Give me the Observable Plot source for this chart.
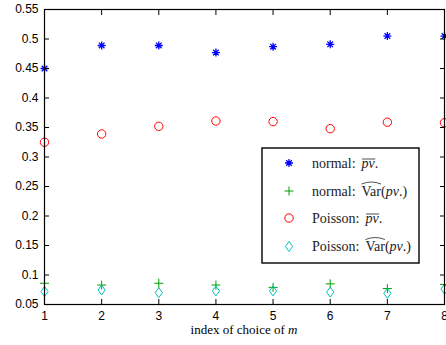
<!DOCTYPE html>
<html><head><meta charset="utf-8">
<script src="https://cdn.jsdelivr.net/npm/d3@7"></script>
<script src="https://cdn.jsdelivr.net/npm/@observablehq/plot@0.6"></script>
<style>body{margin:0;background:#fff} svg{display:block}</style>
</head><body><div id="chart"></div>
<script>
const indices = [1, 2, 3, 4, 5, 6, 7, 8];
const normalMean = [0.450, 0.489, 0.489, 0.477, 0.487, 0.491, 0.505, 0.505];
const normalVar = [0.086, 0.083, 0.086, 0.083, 0.079, 0.085, 0.077, 0.084];
const poissonMean = [0.325, 0.339, 0.352, 0.361, 0.360, 0.348, 0.359, 0.358];
const poissonVar = [0.072, 0.0745, 0.070, 0.073, 0.073, 0.071, 0.069, 0.076];
const yTicks = [0.05, 0.1, 0.15, 0.2, 0.25, 0.3, 0.35, 0.4, 0.45, 0.5, 0.55];
const yTickLabels = ["0.05", "0.1", "0.15", "0.2", "0.25", "0.3", "0.35", "0.4", "0.45", "0.5", "0.55"];
const xTickLabels = ["1", "2", "3", "4", "5", "6", "7", "8"];

const asterisk = {draw(c, s) { const r = Math.sqrt(s / Math.PI), d = r * 0.7071;
  c.moveTo(-r, 0); c.lineTo(r, 0); c.moveTo(0, -r); c.lineTo(0, r);
  c.moveTo(-d, -d); c.lineTo(d, d); c.moveTo(-d, d); c.lineTo(d, -d); }};
const plus = {draw(c, s) { const r = Math.sqrt(s / Math.PI);
  c.moveTo(-r, 0); c.lineTo(r, 0); c.moveTo(0, -r); c.lineTo(0, r); }};
const ring = {draw(c, s) { const r = Math.sqrt(s / Math.PI);
  c.moveTo(r, 0); c.arc(0, 0, r, 0, 2 * Math.PI); c.closePath(); }};
const diamond = {draw(c, s) { const r = Math.sqrt(s / Math.PI), w = r * 0.72;
  c.moveTo(0, -r); c.lineTo(w, 0); c.lineTo(0, r); c.lineTo(-w, 0); c.closePath(); }};

const series = [
  {name: "nm", values: normalMean, symbol: asterisk, color: "#0000ff", r: 4, sw: 1.3},
  {name: "nv", values: normalVar, symbol: plus, color: "#00a000", r: 4.5, sw: 1},
  {name: "pm", values: poissonMean, symbol: ring, color: "#ff0000", r: 4.2, sw: 1},
  {name: "pv", values: poissonVar, symbol: diamond, color: "#00bfbf", r: 5, sw: 1}
];

const marks = [];
for (const s of series) {
  marks.push(Plot.dot(indices, {x: d => d, y: (d, i) => s.values[i], symbol: s.symbol, r: s.r,
    stroke: s.color, fill: "none", strokeWidth: s.sw}));
}

const fmtY = d => yTickLabels[yTicks.findIndex(t => Math.abs(t - d) < 1e-9)];
const fmtX = d => xTickLabels[indices.indexOf(d)];

const plot = Plot.plot({
  width: 446, height: 345,
  marginLeft: 44, marginRight: 2, marginTop: 9, marginBottom: 41,
  style: {fontFamily: "Liberation Sans, Arial, sans-serif", fontSize: "12px", color: "#000", background: "#fff"},
  x: {domain: [1, 8]},
  y: {domain: [0.05, 0.55]},
  marks: [
    ...marks,
    Plot.axisX({anchor: "bottom", ticks: indices, tickSize: 0, tickPadding: 7, tickFormat: fmtX, label: null, fontSize: 12}),
    Plot.axisX({anchor: "bottom", ticks: indices, tickSize: -5, tickFormat: () => "", label: null}),
    Plot.axisX({anchor: "top", ticks: indices, tickSize: -5, tickFormat: () => "", label: null}),
    Plot.axisY({anchor: "left", ticks: yTicks, tickSize: 0, tickPadding: 6, tickFormat: fmtY, label: null, fontSize: 12}),
    Plot.axisY({anchor: "left", ticks: yTicks, tickSize: -5, tickFormat: () => "", label: null}),
    Plot.axisY({anchor: "right", ticks: yTicks, tickSize: -5, tickFormat: () => "", label: null}),
    Plot.frame({stroke: "#000", strokeWidth: 1.2})
  ]
});
document.getElementById("chart").appendChild(plot);

const svg = d3.select(plot);
const serif = "Liberation Serif, Times New Roman, serif";

// x-axis label
const xl = svg.append("text").attr("x", 244).attr("y", 334).attr("text-anchor", "middle")
  .attr("font-family", serif).attr("font-size", 13).attr("fill", "#000");
xl.append("tspan").text("index of choice of ");
xl.append("tspan").attr("font-style", "italic").text("m");

// legend
const lg = svg.append("g").attr("text-anchor", "start");
lg.append("rect").attr("x", 262).attr("y", 148).attr("width", 157).attr("height", 115)
  .attr("fill", "#fff").attr("stroke", "#000").attr("stroke-width", 1.4);
const rows = [
  {cy: 163, segs: [{t: "normal:", gap: 6}, {t: "pv", it: true, over: true}, {t: "."}]},
  {cy: 191, segs: [{t: "normal:", gap: 6}, {t: "Var", hat: true}, {t: "("}, {t: "pv", it: true}, {t: ".)"}]},
  {cy: 218, segs: [{t: "Poisson:", gap: 6}, {t: "pv", it: true, over: true}, {t: "."}]},
  {cy: 246.5, segs: [{t: "Poisson:", gap: 6}, {t: "Var", hat: true}, {t: "("}, {t: "pv", it: true}, {t: ".)"}]}
];
rows.forEach((row, i) => {
  const s = series[i];
  lg.append("path").attr("d", d3.symbol(s.symbol, s.r * s.r * Math.PI)())
    .attr("transform", `translate(289,${row.cy})`)
    .attr("fill", "none").attr("stroke", s.color).attr("stroke-width", s.sw);
  let x = 312; const base = row.cy + 4.5;
  for (const seg of row.segs) {
    const t = lg.append("text").attr("x", x).attr("y", base).attr("font-family", serif)
      .attr("text-anchor", "start")
      .attr("font-size", 14).attr("fill", "#222")
      .attr("font-style", seg.it ? "italic" : null).text(seg.t);
    const w = t.node().getComputedTextLength();
    if (seg.over) {
      lg.append("line").attr("x1", x + 0.5).attr("x2", x + w + 0.5).attr("y1", base - 8.5).attr("y2", base - 8.5)
        .attr("stroke", "#222").attr("stroke-width", 0.8);
    }
    if (seg.hat) {
      lg.append("path").attr("d", `M${x},${base - 11.5} Q${x + w / 2},${base - 15.5} ${x + w},${base - 11.5}`)
        .attr("fill", "none").attr("stroke", "#222").attr("stroke-width", 0.8);
    }
    x += w + (seg.gap || 0);
  }
});
</script>
</body></html>
